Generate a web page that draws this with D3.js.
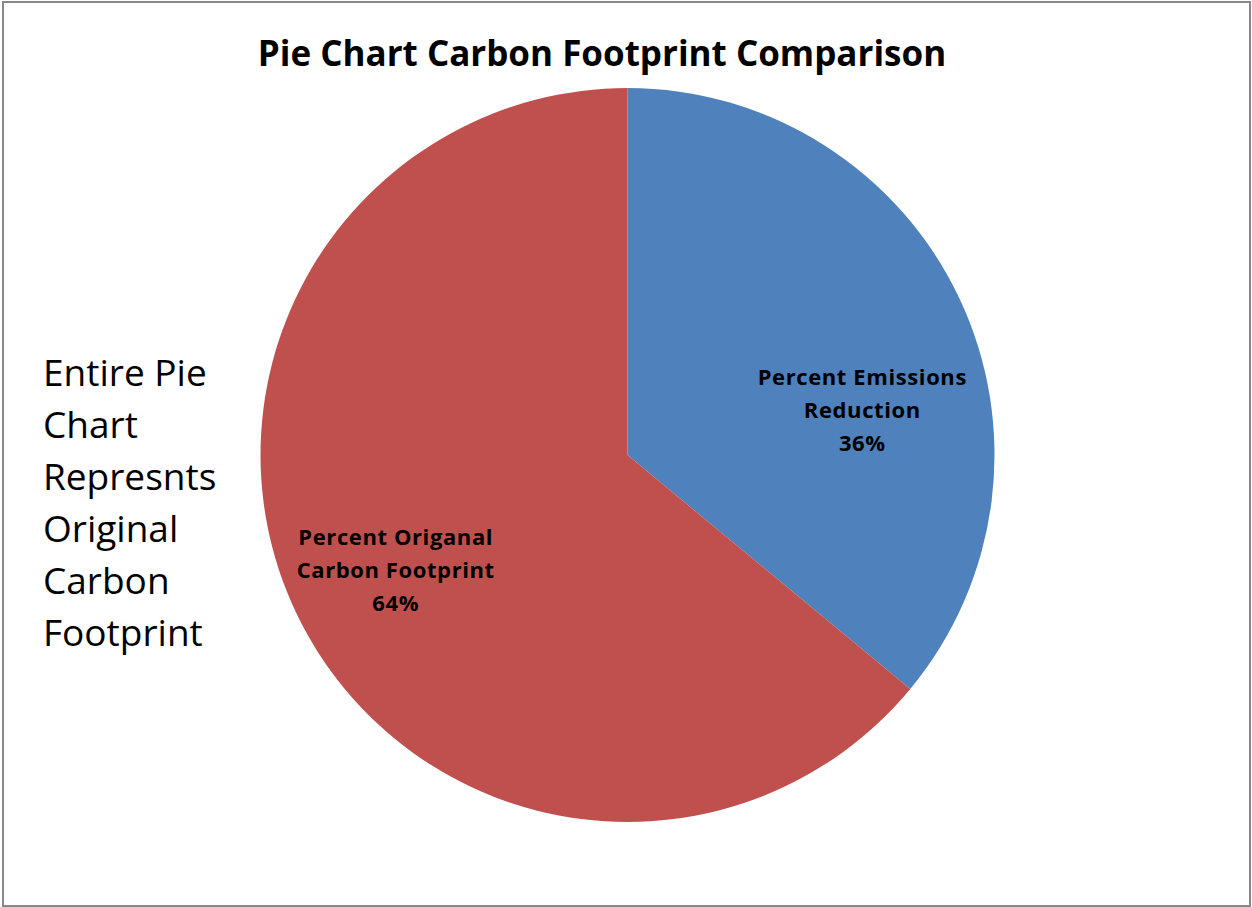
<!DOCTYPE html>
<html><head><meta charset="utf-8">
<script src="https://cdn.jsdelivr.net/npm/d3@7"></script>
<style>body{margin:0;background:#fff}svg{display:block}</style>
</head><body>
<script>
const categories = ["Percent Emissions Reduction", "Percent Origanal Carbon Footprint"];
const labelLines = [["Percent Emissions", "Reduction"], ["Percent Origanal", "Carbon Footprint"]];
const values = [36, 64];
const colors = ["#4F81BD", "#C0504D"];
const title = "Pie Chart Carbon Footprint Comparison";
const sideNote = ["Entire Pie", "Chart", "Represnts", "Original", "Carbon", "Footprint"];

const W = 1252, H = 907;
const font = "'Open Sans', Lato, sans-serif";
const svg = d3.select("body").append("svg").attr("width", W).attr("height", H);

svg.append("rect").attr("x", 3).attr("y", 2).attr("width", W - 5).attr("height", H - 3)
  .attr("fill", "#fff").attr("stroke", "#888").attr("stroke-width", 2);

svg.append("text").attr("x", 602).attr("y", 66).attr("text-anchor", "middle")
  .attr("font-family", font).attr("font-weight", "bold").attr("font-size", 35)
  .text(title);

const cx = 627.5, cy = 455, R = 367;
const pie = d3.pie().sort(null).value(d => d)(values);
const arc = d3.arc().innerRadius(0).outerRadius(R);
const g = svg.append("g").attr("transform", `translate(${cx},${cy})`);
g.selectAll("path").data(pie).join("path").attr("d", arc).attr("fill", (d, i) => colors[i]);

const labelArc = d3.arc().innerRadius(R * 0.68).outerRadius(R * 0.68);
const labelShift = [[9, 36], [-6, -16]];
const lab = g.selectAll("g.lab").data(pie).join("g").attr("class", "lab")
  .attr("transform", (d, i) => {
    const c = labelArc.centroid(d);
    return `translate(${c[0] + labelShift[i][0]},${c[1] + labelShift[i][1]})`;
  });
lab.each(function (d, i) {
  const lines = labelLines[i].concat([values[i] + "%"]);
  lines.forEach((t, k) => {
    d3.select(this).append("text").attr("x", 0).attr("y", k * 33)
      .attr("text-anchor", "middle").attr("font-family", font)
      .attr("font-weight", "bold").attr("font-size", 22).attr("letter-spacing", 0.6)
      .attr("fill", "#000").text(t);
  });
});

sideNote.forEach((t, k) => {
  svg.append("text").attr("x", 43).attr("y", 386 + k * 52)
    .attr("font-family", font).attr("font-size", 37).attr("fill", "#000").text(t);
});
</script>
</body></html>
